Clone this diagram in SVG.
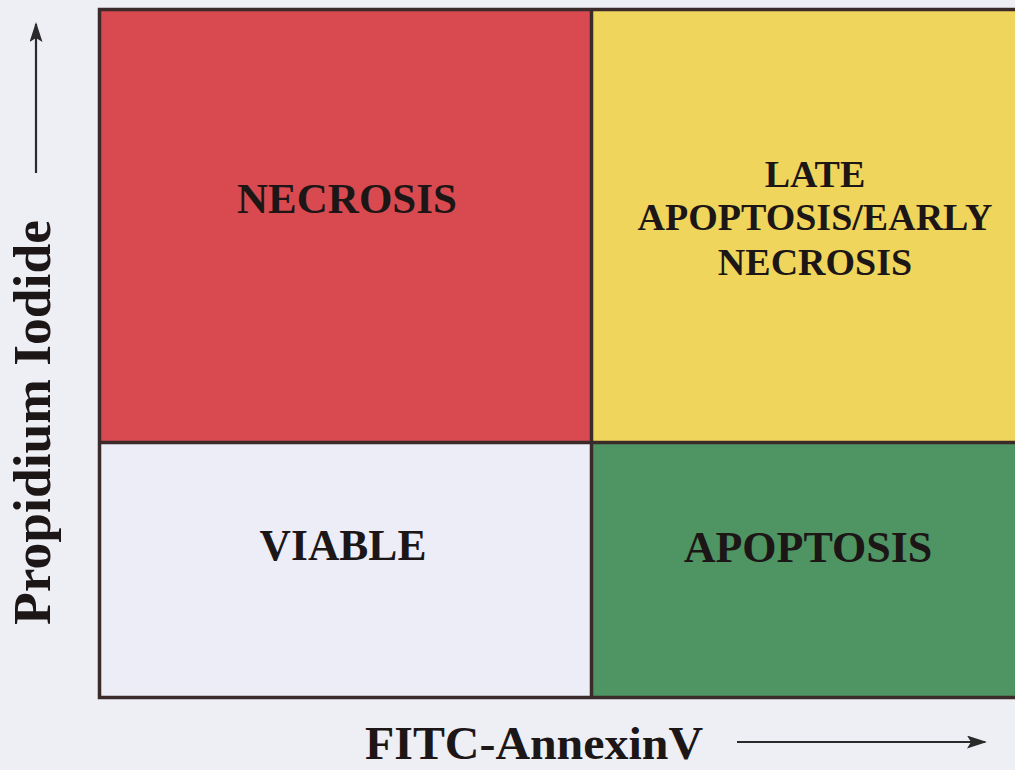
<svg xmlns="http://www.w3.org/2000/svg" width="1015" height="770" viewBox="0 0 1015 770">
  <style>
    .lbl { font-family: "Liberation Serif", "Times New Roman", serif; font-weight: bold; fill: #1c1616; text-anchor: middle; }
    .div { stroke: #3a2a2a; stroke-width: 3.5; fill: none; }
    .ax { stroke: #2a2a2a; stroke-width: 2.2; fill: none; }
  </style>
  <defs>
    <marker id="ah2" viewBox="0 0 20 13" refX="18" refY="6.5" markerWidth="20" markerHeight="13" markerUnits="userSpaceOnUse" orient="auto" preserveAspectRatio="none">
      <path d="M0,0 L20,6.5 L0,13 L4,6.5 z" fill="#2a2a2a"/>
    </marker>
  </defs>
  <rect x="0" y="0" width="1015" height="770" fill="#eeeef5"/>

  <g id="necrosis">
    <rect x="99.5" y="9.5" width="492" height="433" fill="#d94a50"/>
    <text class="lbl" x="347" y="213" font-size="43">NECROSIS</text>
  </g>
  <g id="late-apoptosis">
    <rect x="591.5" y="9.5" width="430" height="433" fill="#f0d55c"/>
    <text class="lbl" font-size="38"><tspan x="815" y="187">LATE</tspan><tspan x="815" y="230">APOPTOSIS/EARLY</tspan><tspan x="815" y="275">NECROSIS</tspan></text>
  </g>
  <g id="viable">
    <rect x="99.5" y="442.5" width="492" height="255" fill="#ededf7"/>
    <text class="lbl" x="343" y="560" font-size="43.5">VIABLE</text>
  </g>
  <g id="apoptosis">
    <rect x="591.5" y="442.5" width="430" height="255" fill="#4f9463"/>
    <text class="lbl" x="808" y="562" font-size="44">APOPTOSIS</text>
  </g>

  <g id="frame">
    <rect class="div" x="99.5" y="9.5" width="930" height="688" stroke-width="4"/>
    <line class="div" x1="591.5" y1="9.5" x2="591.5" y2="697.5"/>
    <line class="div" x1="99.5" y1="442.5" x2="1020" y2="442.5"/>
  </g>

  <g id="y-axis">
    <text class="lbl" transform="translate(50,422.5) rotate(-90)" x="0" y="0" font-size="52" textLength="405" lengthAdjust="spacingAndGlyphs">Propidium Iodide</text>
  </g>
  <g id="x-axis">
    <text class="lbl" x="534" y="759" font-size="47" textLength="338" lengthAdjust="spacingAndGlyphs">FITC-AnnexinV</text>
  </g>

  <g id="connectors">
    <line class="ax" x1="36" y1="173" x2="36" y2="24" marker-end="url(#ah2)"/>
    <line class="ax" x1="737" y1="742" x2="985" y2="742" marker-end="url(#ah2)"/>
  </g>
</svg>
